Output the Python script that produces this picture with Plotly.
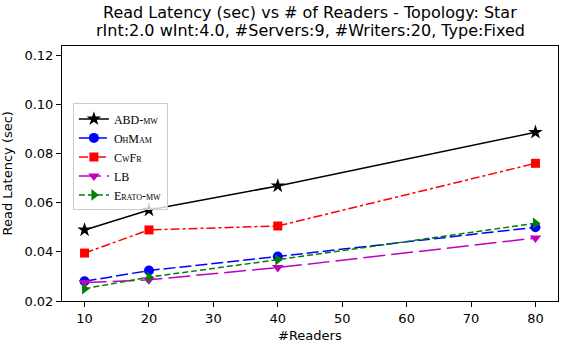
import plotly.graph_objects as go

readers = [10, 20, 40, 80]

abd_mw = [0.0489, 0.0570, 0.0668, 0.0886]
ohmam = [0.0280, 0.0324, 0.0381, 0.0500]
cwfr = [0.0395, 0.0489, 0.0505, 0.0760]
lb = [0.0275, 0.0286, 0.0336, 0.0456]
erato_mw = [0.0250, 0.0297, 0.0368, 0.0516]

x_ticks = [10, 20, 30, 40, 50, 60, 70, 80]
y_ticks = [0.02, 0.04, 0.06, 0.08, 0.10, 0.12]

title_lines = [
    "Read Latency (sec) vs # of Readers - Topology: Star",
    "rInt:2.0 wInt:4.0, #Servers:9, #Writers:20, Type:Fixed",
]

series = [
    ("ABD-mw", abd_mw, "black", "solid", "star", 11),
    ("OhMam", ohmam, "blue", "12px,4px", "circle", 10),
    ("CwFr", cwfr, "red", "dashdot", "square", 9),
    ("LB", lb, "#BF00BF", "22px,6px", "triangle-down", 10),
    ("Erato-mw", erato_mw, "green", "6px,3px", "triangle-right", 10),
]

fig = go.Figure()
for name, vals, color, dash, symbol, size in series:
    fig.add_trace(go.Scatter(
        x=readers, y=vals, name=name,
        mode="lines+markers",
        line=dict(color=color, width=1.5, dash=dash),
        marker=dict(symbol=symbol, size=size, color=color),
    ))

axis_common = dict(
    showline=True, linecolor="black", linewidth=1, mirror=True,
    ticks="outside", ticklen=5, tickcolor="black",
    showgrid=False, zeroline=False, automargin=False,
    tickfont=dict(size=13, color="black"),
)

fig.update_xaxes(range=[6.5, 83.5], tickvals=x_ticks, tickformat="d", **axis_common)
fig.update_yaxes(range=[0.02, 0.1237], tickvals=y_ticks, tickformat=".2f", **axis_common)

# title and axis labels as annotations so they sit where the reference has them
notes = [
    dict(text=title_lines[0], x=0.5, y=1.133, font=dict(size=16)),
    dict(text=title_lines[1], x=0.5, y=1.059, font=dict(size=16)),
    dict(text="#Readers", x=0.5, y=-0.137, font=dict(size=13)),
    dict(text="Read Latency (sec)", x=-0.109, y=0.5, textangle=-90, font=dict(size=13)),
]
for n in notes:
    fig.add_annotation(xref="paper", yref="paper", showarrow=False,
                       xanchor="center", yanchor="middle", **n)

fig.update_layout(
    width=565, height=345,
    paper_bgcolor="white", plot_bgcolor="white",
    font=dict(family="DejaVu Sans", color="black"),
    margin=dict(l=62, r=7, t=46, b=44, autoexpand=False),
    hovermode=False,
    showlegend=True,
    legend=dict(
        x=0.022, y=0.775, xanchor="left", yanchor="top",
        bgcolor="rgba(255,255,255,0.8)", bordercolor="#CCCCCC", borderwidth=1,
        font=dict(family="Liberation Serif", size=12, color="black", variant="small-caps"),
        itemwidth=30, tracegroupgap=0,
    ),
)

# the page body has a default 8px margin; drop it so the figure fills the window
fig.write_html("out.html", config={"displayModeBar": False},
               post_script="document.body.style.margin='0';")
